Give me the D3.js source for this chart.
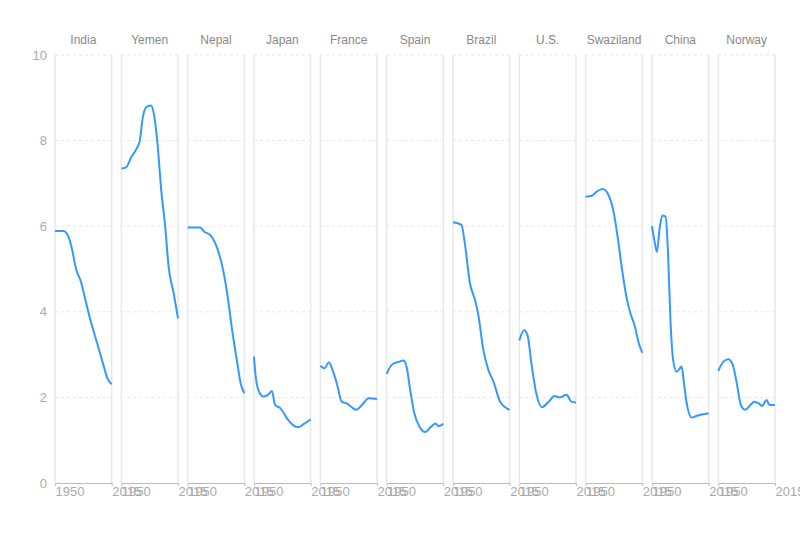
<!DOCTYPE html>
<html>
<head>
<meta charset="utf-8">
<script src="https://cdn.jsdelivr.net/npm/d3@7"></script>
<style>
  body { margin: 0; background: #fff; }
  svg { display: block; font-family: "Liberation Sans", Arial, sans-serif; }
</style>
</head>
<body>
<svg id="chart" width="800" height="538"></svg>
<script>
const countries = ["India","Yemen","Nepal","Japan","France","Spain","Brazil","U.S.","Swaziland","China","Norway"];
const yTicks = [0, 2, 4, 6, 8, 10];
const xTicks = [1950, 2015];

const india = [[1950,5.89],[1959.7,5.89],[1965.5,5.75],[1969.3,5.48],[1974.4,4.98],[1979.8,4.70],[1984.8,4.28],[1990.6,3.81],[1998.4,3.26],[2006,2.72],[2010,2.45],[2015,2.31]];
const yemen = [[1950,7.35],[1955,7.37],[1961.6,7.62],[1968.2,7.84],[1971.3,8.01],[1974.4,8.52],[1979,8.79],[1984,8.82],[1987.5,8.6],[1991.4,7.94],[1995.7,6.85],[2000.3,5.99],[2004.2,5.05],[2010,4.43],[2015,3.85]];
const nepal = [[1950,5.97],[1964.3,5.97],[1969,5.87],[1976,5.79],[1981.7,5.6],[1990.6,4.98],[1995.3,4.43],[2001,3.57],[2006.9,2.80],[2010.7,2.33],[2015,2.10]];
const japan = [[1950,2.95],[1951.2,2.64],[1955,2.17],[1960.8,2.02],[1966.6,2.07],[1970.5,2.15],[1974.3,1.82],[1980.1,1.75],[1987.9,1.51],[1993.7,1.37],[2000.2,1.30],[2007.2,1.38],[2015,1.49]];
const france = [[1950,2.74],[1955,2.68],[1959.7,2.82],[1964.7,2.60],[1969.4,2.29],[1974.5,1.90],[1980.3,1.86],[1986,1.77],[1991,1.71],[1997.6,1.82],[2005.4,1.98],[2015,1.96]];
const spain = [[1950,2.55],[1955.8,2.76],[1963.5,2.83],[1969.3,2.86],[1973.2,2.68],[1977,2.17],[1981.7,1.63],[1987.5,1.32],[1994.4,1.19],[2000.2,1.30],[2006,1.39],[2009.8,1.33],[2015,1.38]];
const brazil = [[1950,6.09],[1959.7,6.03],[1963.6,5.60],[1969.4,4.67],[1975.2,4.28],[1979,3.93],[1984.8,3.11],[1990.6,2.64],[1996.4,2.37],[2004.1,1.90],[2015,1.71]];
const us = [[1950,3.33],[1955.4,3.57],[1959.3,3.46],[1964.4,2.72],[1969.4,2.10],[1976,1.77],[1983.7,1.90],[1990.3,2.03],[1996.4,2.00],[2004.2,2.06],[2009.6,1.90],[2015,1.88]];
const swaziland = [[1950,6.69],[1957,6.71],[1962.8,6.81],[1969.7,6.87],[1976.2,6.73],[1982,6.34],[1986.7,5.75],[1991.8,4.98],[1996.7,4.35],[2001.4,3.96],[2006,3.69],[2011,3.26],[2015,3.04]];
const china = [[1950,6.0],[1953,5.64],[1955.7,5.40],[1958.8,5.95],[1961.9,6.25],[1965.7,6.22],[1968.4,5.37],[1971.2,3.81],[1974.3,2.87],[1978.2,2.60],[1982,2.68],[1984,2.72],[1986.7,2.33],[1989.8,1.86],[1995.6,1.53],[2001.4,1.57],[2015,1.63]];
const norway = [[1950,2.62],[1955.7,2.83],[1961.5,2.89],[1966.6,2.76],[1971.2,2.33],[1975.9,1.82],[1980.9,1.71],[1986.7,1.82],[1991.3,1.90],[1996.3,1.86],[2000.2,1.80],[2005.2,1.94],[2009,1.82],[2015,1.82]];

const seriesList = [india, yemen, nepal, japan, france, spain, brazil, us, swaziland, china, norway];

const svg = d3.select("#chart");
const plotTop = 55, plotBottom = 483;

const band = d3.scaleBand().domain(countries).range([55, 775]).paddingInner(0.145).paddingOuter(0);
const y = d3.scaleLinear().domain([0, 10]).range([plotBottom, plotTop]);

// y tick labels
svg.append("g").selectAll("text").data(yTicks).join("text")
  .attr("x", 47).attr("y", d => y(d)).attr("dy", "0.35em")
  .attr("text-anchor", "end").attr("font-size", 13).attr("fill", "#aaa")
  .text(d => d);

countries.forEach((c, i) => {
  const x0 = band(c), w = band.bandwidth();
  const x = d3.scaleLinear().domain([1950, 2015]).range([x0, x0 + w]);
  const g = svg.append("g");

  // dashed gridlines
  g.selectAll("line.grid").data(yTicks.filter(t => t > 0)).join("line")
    .attr("x1", x0).attr("x2", x0 + w)
    .attr("y1", d => y(d)).attr("y2", d => y(d))
    .attr("stroke", "#e6e6e6").attr("stroke-dasharray", "3,3");

  // panel borders
  [x0, x0 + w].forEach(xx => {
    g.append("line").attr("x1", xx).attr("x2", xx).attr("y1", plotTop).attr("y2", plotBottom)
      .attr("stroke", "#e8e8e8").attr("stroke-width", 1.5);
  });

  // bottom axis
  const ax = g.append("g").attr("transform", `translate(0,${plotBottom})`)
    .call(d3.axisBottom(x).tickValues(xTicks).tickFormat(d3.format("d")).tickSize(0).tickSizeOuter(3).tickPadding(4));
  ax.select(".domain").attr("stroke", "#bbb");
  ax.selectAll("text").attr("text-anchor", "start").attr("font-size", 13).attr("fill", "#aaa")
    .attr("font-family", "Liberation Sans, Arial, sans-serif");

  // title
  g.append("text").attr("x", x0 + w / 2).attr("y", 40).attr("dy", "0.35em")
    .attr("text-anchor", "middle").attr("font-size", 12).attr("fill", "#888").text(c);

  // line
  const line = d3.line().x(d => x(d[0])).y(d => y(d[1])).curve(d3.curveMonotoneX);
  g.append("path").datum(seriesList[i]).attr("d", line)
    .attr("fill", "none").attr("stroke", "#3399ff").attr("stroke-width", 2);
});
</script>
</body>
</html>
